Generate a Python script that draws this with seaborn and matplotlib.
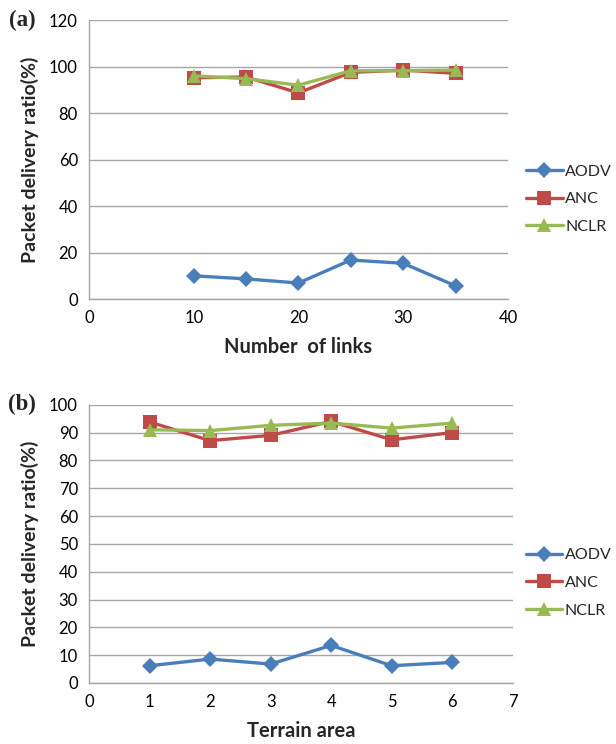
import matplotlib
matplotlib.use("Agg")
import matplotlib.pyplot as plt
import seaborn as sns
import pandas as pd

# Panel (a): packet delivery ratio vs number of links
links = [10, 15, 20, 25, 30, 35]
aodv_links = [10.0, 8.7, 6.9, 16.8, 15.4, 5.7]
anc_links = [95.2, 95.5, 88.7, 97.5, 98.5, 97.1]
nclr_links = [96.0, 94.8, 92.0, 98.2, 98.2, 98.5]

# Panel (b): packet delivery ratio vs terrain area
terrain = [1, 2, 3, 4, 5, 6]
aodv_terrain = [6.2, 8.6, 6.8, 13.5, 6.2, 7.4]
anc_terrain = [93.8, 87.1, 89.0, 94.0, 87.4, 90.0]
nclr_terrain = [91.0, 90.7, 92.6, 93.4, 91.6, 93.4]

protocols = ["AODV", "ANC", "NCLR"]
palette = {"AODV": "#4A7EBB", "ANC": "#BE4B48", "NCLR": "#98B954"}
markers = {"AODV": "D", "ANC": "s", "NCLR": "^"}
marker_sizes = {"AODV": 8, "ANC": 9.5, "NCLR": 10}

sns.set_theme(style="white")
plt.rcParams["font.family"] = ["Lato", "DejaVu Sans"]

GRID = "#A6A6A6"


def long_form(x, series):
    rows = []
    for name, vals in zip(protocols, series):
        for xi, yi in zip(x, vals):
            rows.append({"x": xi, "PDR": yi, "Protocol": name})
    return pd.DataFrame(rows)


def draw(ax, df, xlim, xticks, ylim, yticks, xlabel, tag, leg_x, leg_y):
    sns.lineplot(data=df, x="x", y="PDR", hue="Protocol", style="Protocol",
                 hue_order=protocols, style_order=protocols,
                 palette=palette, markers=markers, dashes=False,
                 linewidth=2.4, markeredgewidth=0, ax=ax, legend=True)
    for line, name in zip(ax.lines, protocols):
        line.set_markersize(marker_sizes[name])
    ax.set_xlim(*xlim)
    ax.set_ylim(*ylim)
    ax.set_xticks(xticks)
    ax.set_yticks(yticks)
    ax.yaxis.grid(True, color=GRID, linewidth=1.0)
    ax.xaxis.grid(False)
    for s in ("top", "right"):
        ax.spines[s].set_visible(False)
    for s in ("left", "bottom"):
        ax.spines[s].set_color(GRID)
        ax.spines[s].set_linewidth(1.0)
    ax.tick_params(axis="both", which="major", labelsize=12, colors="#000000",
                   length=4, width=1.0, direction="out", pad=4)
    ax.tick_params(axis="both", color=GRID)
    ax.set_xlabel(xlabel, fontsize=14.5, fontweight="bold", labelpad=8)
    ax.set_ylabel("Packet delivery ratio(%)", fontsize=14, fontweight="bold", labelpad=7)
    ax.set_axisbelow(True)
    handles, labels = ax.get_legend_handles_labels()
    for h, name in zip(handles, labels):
        h.set_linewidth(2.4)
        h.set_markersize(marker_sizes[name])
        h.set_markeredgewidth(0)
    ax.legend(handles, labels, loc="center left", bbox_to_anchor=(leg_x, leg_y),
              frameon=False, fontsize=11.5, handlelength=2.3, handletextpad=0.15,
              labelspacing=0.85, borderaxespad=0)
    ax.text(-0.19, 1.0, tag, transform=ax.transAxes, fontsize=16.5, fontweight="bold",
            family="Liberation Serif", ha="left", va="center")


fig = plt.figure(figsize=(6.16, 7.44), dpi=100)
ax_a = fig.add_axes([0.1445, 0.598, 0.680, 0.375])
ax_b = fig.add_axes([0.1445, 0.082, 0.688, 0.374])

df_a = long_form(links, [aodv_links, anc_links, nclr_links])
draw(ax_a, df_a, (0, 40), [0, 10, 20, 30, 40], (0, 120), range(0, 121, 20),
     "Number  of links", "(a)", 1.028, 0.358)

df_b = long_form(terrain, [aodv_terrain, anc_terrain, nclr_terrain])
draw(ax_b, df_b, (0, 7), range(0, 8), (0, 100), range(0, 101, 10),
     "Terrain area", "(b)", 1.015, 0.36)

fig.savefig("out.png", dpi=100, facecolor="white")
